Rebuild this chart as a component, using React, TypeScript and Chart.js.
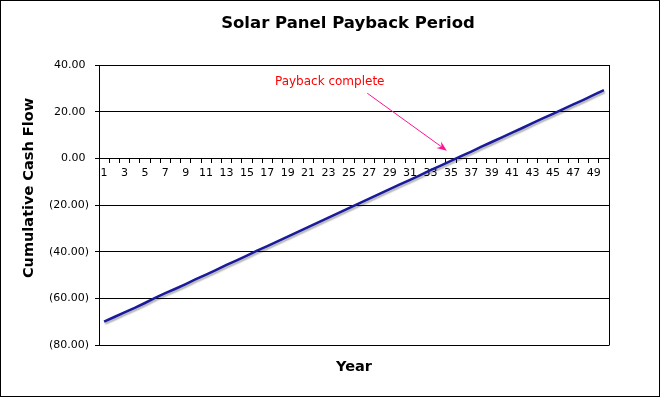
import React, { useEffect, useRef } from "react";
import { Chart, registerables } from "chart.js";

Chart.register(...registerables);

const chartTitle = "Solar Panel Payback Period";
const xAxisTitle = "Year";
const yAxisTitle = "Cumulative Cash Flow";
const annotationText = "Payback complete";

const years = [
  "1", "2", "3", "4", "5", "6", "7", "8", "9", "10",
  "11", "12", "13", "14", "15", "16", "17", "18", "19", "20",
  "21", "22", "23", "24", "25", "26", "27", "28", "29", "30",
  "31", "32", "33", "34", "35", "36", "37", "38", "39", "40",
  "41", "42", "43", "44", "45", "46", "47", "48", "49", "50",
];

const cumulativeCashFlow = [
  -70.0, -68.0, -66.0, -64.1, -62.0, -59.8, -57.8, -55.9, -53.9, -51.8,
  -49.8, -47.8, -45.7, -43.7, -41.7, -39.6, -37.6, -35.6, -33.6, -31.5,
  -29.5, -27.4, -25.4, -23.4, -21.3, -19.3, -17.3, -15.2, -13.2, -11.2,
  -9.2, -7.2, -5.1, -3.1, -1.1, 0.9, 2.9, 5.0, 7.0, 9.0,
  11.0, 13.0, 15.1, 17.1, 19.1, 21.1, 23.1, 25.1, 27.2, 29.2,
];

const yMin = -80;
const yMax = 40;
const yStep = 20;

// annotation anchors in data space: [category index, value]
const labelAnchor = [16.75, 31.4];
const arrowFrom = [25.8, 27.9];
const arrowTo = [33.6, 3.3];

const fmtY = (v: number) =>
  v < 0 ? `(${Math.abs(v).toFixed(2)})` : `${v.toFixed(2)} `;

const decorPlugin = {
  id: "decor",
  beforeDraw(chart: any) {
    const { ctx, width, height } = chart;
    ctx.save();
    ctx.fillStyle = "#ffffff";
    ctx.fillRect(0, 0, width, height);
    ctx.restore();
  },
  afterDraw(chart: any) {
    const { ctx, chartArea } = chart;
    const xs = chart.scales.x;
    const ys = chart.scales.y;
    ctx.save();
    // outer frame
    ctx.strokeStyle = "#000";
    ctx.lineWidth = 1;
    ctx.strokeRect(0.5, 0.5, 659, 396);
    // right plot border
    ctx.beginPath();
    ctx.moveTo(Math.round(chartArea.right) + 0.5, chartArea.top);
    ctx.lineTo(Math.round(chartArea.right) + 0.5, chartArea.bottom + 0.5);
    ctx.stroke();

    // title
    ctx.fillStyle = "#000";
    ctx.font = "bold 16.5px 'DejaVu Sans'";
    ctx.textAlign = "center";
    ctx.textBaseline = "alphabetic";
    ctx.fillText(chartTitle, (chartArea.left + chartArea.right) / 2 - 6, 28);

    // x axis title
    ctx.font = "bold 14.5px 'DejaVu Sans'";
    ctx.fillText(xAxisTitle, (chartArea.left + chartArea.right) / 2, 371);

    // y axis title
    ctx.save();
    ctx.translate(33, 188);
    ctx.rotate(-Math.PI / 2);
    ctx.fillText(yAxisTitle, 0, 0);
    ctx.restore();

    // annotation label
    ctx.font = "12px 'DejaVu Sans'";
    ctx.fillStyle = "#ff0000";
    ctx.textAlign = "left";
    ctx.fillText(
      annotationText,
      xs.getPixelForValue(labelAnchor[0]),
      ys.getPixelForValue(labelAnchor[1])
    );

    // arrow
    const x1 = xs.getPixelForValue(arrowFrom[0]);
    const y1 = ys.getPixelForValue(arrowFrom[1]);
    const x2 = xs.getPixelForValue(arrowTo[0]);
    const y2 = ys.getPixelForValue(arrowTo[1]);
    const ang = Math.atan2(y2 - y1, x2 - x1);
    const headLen = 10;
    const headW = 4;
    ctx.strokeStyle = "#ff1493";
    ctx.fillStyle = "#ff1493";
    ctx.lineWidth = 1;
    ctx.beginPath();
    ctx.moveTo(x1, y1);
    ctx.lineTo(x2 - Math.cos(ang) * headLen * 0.6, y2 - Math.sin(ang) * headLen * 0.6);
    ctx.stroke();
    const bx = x2 - Math.cos(ang) * headLen;
    const by = y2 - Math.sin(ang) * headLen;
    ctx.beginPath();
    ctx.moveTo(x2, y2);
    ctx.lineTo(bx + Math.sin(ang) * headW, by - Math.cos(ang) * headW);
    ctx.lineTo(x2 - Math.cos(ang) * headLen * 0.65, y2 - Math.sin(ang) * headLen * 0.65);
    ctx.lineTo(bx - Math.sin(ang) * headW, by + Math.cos(ang) * headW);
    ctx.closePath();
    ctx.fill();
    ctx.restore();
  },
  beforeDatasetDraw(chart: any) {
    const ctx = chart.ctx;
    ctx.save();
    ctx.shadowColor = "rgba(0,0,0,0.3)";
    ctx.shadowOffsetX = 1;
    ctx.shadowOffsetY = 2;
    ctx.shadowBlur = 1.5;
  },
  afterDatasetDraw(chart: any) {
    chart.ctx.restore();
  },
};

export default function App() {
  const canvasRef = useRef<HTMLCanvasElement | null>(null);

  useEffect(() => {
    const canvas = canvasRef.current;
    if (!canvas) return;
    const chart = new Chart(canvas, {
      type: "line",
      data: {
        labels: years,
        datasets: [
          {
            label: "Cumulative Cash Flow",
            data: cumulativeCashFlow,
            borderColor: "#1a1a9c",
            borderWidth: 2.5,
            pointRadius: 0,
            tension: 0,
            fill: false,
          },
        ],
      },
      options: {
        responsive: false,
        animation: false,
        devicePixelRatio: 1,
        layout: { padding: { top: 65, right: 52, bottom: 54, left: 0 } },
        plugins: {
          legend: { display: false },
          title: { display: false },
          tooltip: { enabled: false },
        },
        scales: {
          y: {
            min: yMin,
            max: yMax,
            afterFit: (scale: any) => {
              scale.width = 99;
            },
            ticks: {
              stepSize: yStep,
              callback: (v: any) => fmtY(Number(v)),
              color: "#000",
              font: { family: "'DejaVu Sans'", size: 11 },
              padding: 6,
            },
            grid: {
              color: "#000",
              lineWidth: 1,
              tickLength: 4,
              drawTicks: true,
            },
            border: { display: true, color: "#000", width: 1 },
          },
          x: {
            type: "category",
            position: { y: 0 } as any,
            offset: true,
            ticks: {
              autoSkip: false,
              maxRotation: 0,
              minRotation: 0,
              callback: (_v: any, i: number) => (i % 2 === 0 ? years[i] : ""),
              color: "#000",
              font: { family: "'DejaVu Sans'", size: 11 },
              padding: 4,
            },
            grid: {
              offset: true,
              drawOnChartArea: false,
              drawTicks: true,
              tickLength: 4,
              color: "#000",
              lineWidth: 1,
            },
            border: { display: true, color: "#000", width: 1 },
          },
        },
      },
      plugins: [decorPlugin],
    });
    return () => chart.destroy();
  }, []);

  return (
    <div style={{ position: "absolute", left: 0, top: 0, width: 661, height: 399 }}>
      <canvas ref={canvasRef} width={661} height={399} style={{ width: 661, height: 399, display: "block" }} />
    </div>
  );
}
